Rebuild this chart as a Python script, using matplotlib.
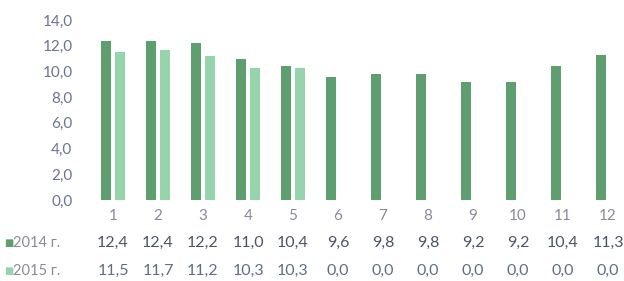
import numpy as np
import matplotlib.pyplot as plt
import matplotlib.transforms as mtransforms

months = ['1', '2', '3', '4', '5', '6', '7', '8', '9', '10', '11', '12']
series_names = ['2014 г.', '2015 г.']
values_2014 = [12.4, 12.4, 12.2, 11.0, 10.4, 9.6, 9.8, 9.8, 9.2, 9.2, 10.4, 11.3]
values_2015 = [11.5, 11.7, 11.2, 10.3, 10.3, 0.0, 0.0, 0.0, 0.0, 0.0, 0.0, 0.0]
yticks = [0, 2, 4, 6, 8, 10, 12, 14]

plt.rcParams['font.family'] = ['Lato', 'DejaVu Sans']

c_dark = '#5f9f6f'
c_light = '#96d4ab'
c_text = '#6b7490'
c_vals = '#4c5566'

fig = plt.figure(figsize=(6.24, 2.81), dpi=100)
ax = fig.add_axes([90.5 / 624, 81 / 281, 531 / 624, 180 / 281])

x = np.arange(len(months))
w = 0.23
ax.bar(x - 0.155, values_2014, width=w, color=c_dark)
ax.bar(x + 0.155, values_2015, width=w, color=c_light)

ax.set_xlim(-0.5, 11.3)
ax.set_ylim(0, 14)
ax.set_yticks(yticks)
ax.set_yticklabels([f'{v:.1f}'.replace('.', ',') for v in yticks],
                   color=c_text, fontsize=11)
ax.tick_params(axis='y', length=0, pad=13)
ax.set_xticks([])
for s in ax.spines.values():
    s.set_visible(False)

# data table below the chart
trans = mtransforms.blended_transform_factory(ax.transData, fig.transFigure)
for i, m in enumerate(months):
    ax.text(i, 1 - 216 / 281, m, transform=trans, ha='center', va='center',
            fontsize=11, color='#8a8a98')
    ax.text(i, 1 - 243 / 281, f'{values_2014[i]:.1f}'.replace('.', ','),
            transform=trans, ha='center', va='center', fontsize=11.5, color=c_vals)
    ax.text(i, 1 - 271 / 281, f'{values_2015[i]:.1f}'.replace('.', ','),
            transform=trans, ha='center', va='center', fontsize=11.5, color='#5e6f85')

for row_y, name, col in [(243, series_names[0], c_dark), (271, series_names[1], c_light)]:
    fig.text(4 / 624, 1 - row_y / 281, '■', color=col, fontsize=7,
             ha='left', va='center', family='DejaVu Sans')
    fig.text(13 / 624, 1 - row_y / 281, name, color='#8a8a98', fontsize=10.5,
             ha='left', va='center')

fig.savefig('out.png', dpi=100)
